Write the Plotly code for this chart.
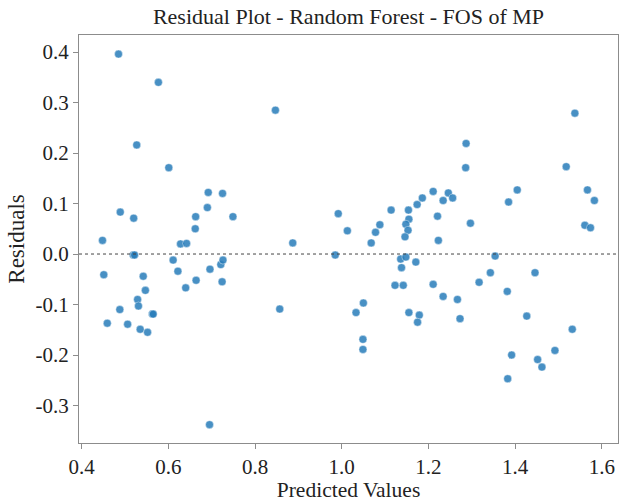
import plotly.graph_objects as go

# Predicted values and residuals for the random forest model
predicted = [
    0.485, 0.577, 0.527, 0.601, 0.489, 0.520, 0.692, 0.725, 0.690, 0.663,
    0.749, 0.662, 0.448, 0.628, 0.642, 0.519, 0.522, 0.611, 0.451, 0.622,
    0.542, 0.696, 0.721, 0.726, 0.664, 0.547, 0.724, 0.640, 0.529, 0.531,
    0.488, 0.563, 0.565, 0.459, 0.506, 0.535, 0.552, 0.695,
    0.847, 0.992, 1.013, 1.114, 1.078, 1.088, 1.154, 1.174, 1.186, 1.211,
    1.155, 1.148, 1.153, 1.146, 1.221, 0.887, 1.068, 1.223, 0.985, 1.136,
    1.148, 1.138, 1.171, 1.123, 1.142, 1.211, 0.857, 1.050, 1.033, 1.155,
    1.179, 1.175, 1.049, 1.049,
    1.538, 1.287, 1.286, 1.518, 1.405, 1.385, 1.567, 1.583, 1.246, 1.234,
    1.256, 1.297, 1.561, 1.574, 1.354, 1.343, 1.446, 1.317, 1.234, 1.267,
    1.382, 1.273, 1.427, 1.532, 1.392, 1.492, 1.452, 1.462, 1.383,
]
residuals = [
    0.396, 0.340, 0.216, 0.171, 0.083, 0.071, 0.122, 0.120, 0.092, 0.074,
    0.074, 0.050, 0.027, 0.020, 0.021, -0.002, -0.002, -0.012, -0.041, -0.034,
    -0.044, -0.030, -0.021, -0.012, -0.052, -0.072, -0.055, -0.067, -0.090, -0.103,
    -0.110, -0.119, -0.119, -0.137, -0.139, -0.149, -0.155, -0.338,
    0.285, 0.080, 0.046, 0.087, 0.043, 0.058, 0.087, 0.098, 0.111, 0.124,
    0.069, 0.059, 0.047, 0.034, 0.075, 0.022, 0.022, 0.027, -0.002, -0.010,
    -0.006, -0.027, -0.016, -0.062, -0.062, -0.060, -0.109, -0.097, -0.116, -0.116,
    -0.121, -0.135, -0.169, -0.189,
    0.279, 0.219, 0.171, 0.173, 0.127, 0.103, 0.127, 0.106, 0.121, 0.106,
    0.111, 0.061, 0.057, 0.052, -0.004, -0.037, -0.037, -0.056, -0.084, -0.090,
    -0.074, -0.128, -0.123, -0.149, -0.200, -0.191, -0.209, -0.224, -0.247,
]

x_ticks = [0.4, 0.6, 0.8, 1.0, 1.2, 1.4, 1.6]
y_ticks = [-0.3, -0.2, -0.1, 0.0, 0.1, 0.2, 0.3, 0.4]

serif = "Liberation Serif, Times New Roman, serif"
ink = "#222222"

fig = go.Figure()
fig.add_trace(go.Scatter(
    x=predicted, y=residuals, mode="markers",
    marker=dict(size=8, color="rgba(40,124,186,0.85)",
                line=dict(width=0.6, color="rgba(255,255,255,0.7)")),
    showlegend=False,
))

# zero reference line
fig.add_shape(type="line", xref="paper", yref="y", x0=0, x1=1, y0=0, y1=0,
              line=dict(color="#444444", width=1, dash="dot"))

axis_common = dict(
    showline=True, linecolor="#8c8c8c", linewidth=1.2, mirror=True,
    ticks="outside", ticklen=5, tickcolor="#8c8c8c", tickwidth=1,
    showgrid=False, zeroline=False,
    tickfont=dict(family=serif, size=21, color=ink),
)

fig.update_layout(
    width=624, height=502,
    margin=dict(l=79, r=5, t=35, b=55),
    paper_bgcolor="white", plot_bgcolor="white",
    title=dict(text="Residual Plot - Random Forest - FOS of MP",
               font=dict(family=serif, size=22, color=ink),
               x=0.5, xanchor="center", y=0.967, yanchor="middle",
               xref="paper"),
    xaxis=dict(range=[0.3938, 1.6375], tickvals=x_ticks,
               ticktext=[f"{v:.1f}" for v in x_ticks],
               title=dict(text="Predicted Values", standoff=3,
                          font=dict(family=serif, size=21.5, color=ink)),
               **axis_common),
    yaxis=dict(range=[-0.3743, 0.4338], tickvals=y_ticks,
               ticktext=[f"{v:.1f}" for v in y_ticks],
               title=dict(text="Residuals", standoff=4,
                          font=dict(family=serif, size=23, color=ink)),
               **axis_common),
)

fig.write_html("out.html")
